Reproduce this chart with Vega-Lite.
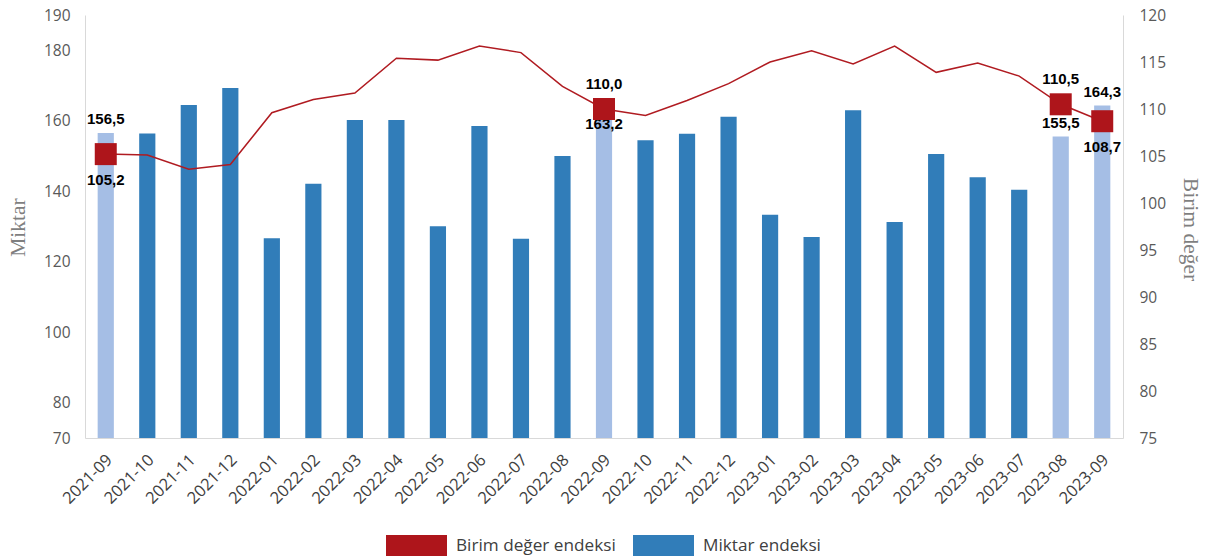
{
  "$schema": "https://vega.github.io/schema/vega-lite/v6.json",
  "width": 1038,
  "height": 423,
  "autosize": {"type": "none"},
  "padding": {"left": 85, "top": 15, "right": 88, "bottom": 120},
  "background": "white",
  "data": {
    "values": [
      {"month": "2021-09", "miktar": 156.5, "birim": 105.2},
      {"month": "2021-10", "miktar": 156.4, "birim": 105.1},
      {"month": "2021-11", "miktar": 164.5, "birim": 103.6},
      {"month": "2021-12", "miktar": 169.3, "birim": 104.1},
      {"month": "2022-01", "miktar": 126.7, "birim": 109.6},
      {"month": "2022-02", "miktar": 142.1, "birim": 111.0},
      {"month": "2022-03", "miktar": 160.2, "birim": 111.7},
      {"month": "2022-04", "miktar": 160.2, "birim": 115.4},
      {"month": "2022-05", "miktar": 130.1, "birim": 115.2},
      {"month": "2022-06", "miktar": 158.5, "birim": 116.7},
      {"month": "2022-07", "miktar": 126.5, "birim": 116.0},
      {"month": "2022-08", "miktar": 150.0, "birim": 112.4},
      {"month": "2022-09", "miktar": 163.2, "birim": 110.0},
      {"month": "2022-10", "miktar": 154.5, "birim": 109.3},
      {"month": "2022-11", "miktar": 156.3, "birim": 110.9},
      {"month": "2022-12", "miktar": 161.1, "birim": 112.7},
      {"month": "2023-01", "miktar": 133.3, "birim": 115.0},
      {"month": "2023-02", "miktar": 127.0, "birim": 116.2},
      {"month": "2023-03", "miktar": 163.0, "birim": 114.8},
      {"month": "2023-04", "miktar": 131.3, "birim": 116.7},
      {"month": "2023-05", "miktar": 150.6, "birim": 113.9},
      {"month": "2023-06", "miktar": 144.0, "birim": 114.9},
      {"month": "2023-07", "miktar": 140.4, "birim": 113.5},
      {"month": "2023-08", "miktar": 155.5, "birim": 110.5},
      {"month": "2023-09", "miktar": 164.3, "birim": 108.7}
    ]
  },
  "config": {
    "locale": {"number": {"decimal": ",", "thousands": ".", "grouping": [3], "currency": ["", " TL"]}},
    "view": {"stroke": null},
    "axis": {
      "grid": false,
      "ticks": false,
      "domainColor": "#D9D9D9",
      "domainWidth": 1,
      "labelFont": "Open Sans",
      "labelFontSize": 15.5,
      "labelColor": "#595959",
      "titleFont": "Liberation Serif",
      "titleFontSize": 21.5,
      "titleFontWeight": "normal",
      "titleColor": "#7F7F7F"
    },
    "legend": {
      "labelFont": "Open Sans",
      "labelFontSize": 17.2,
      "labelColor": "#404040"
    }
  },
  "encoding": {
    "x": {
      "field": "month",
      "type": "ordinal",
      "title": null,
      "scale": {"paddingInner": 0.61, "paddingOuter": 0.305},
      "axis": {"labelAngle": -45, "labelAlign": "right", "labelBaseline": "middle", "labelPadding": 19, "labelOffset": 4, "labelFontSize": 16.5, "labelColor": "#404040"}
    }
  },
  "layer": [
    {
      "encoding": {
        "y": {
          "field": "miktar",
          "type": "quantitative",
          "scale": {"domain": [70, 190], "zero": false, "nice": false},
          "axis": {
            "orient": "left",
            "values": [70, 80, 100, 120, 140, 160, 180, 190],
            "title": "Miktar",
            "labelPadding": 15,
            "titleX": -67,
            "titleY": 212,
            "titleAngle": -90,
            "titleAlign": "center",
            "titleBaseline": "middle"
          }
        }
      },
      "layer": [
        {
          "mark": {"type": "bar"},
          "encoding": {
            "y2": {"datum": 70},
            "color": {
              "condition": {"test": "indexof(['2021-09','2022-09','2023-08','2023-09'], datum.month) >= 0", "value": "#A5BEE5"},
              "datum": "Miktar endeksi",
              "scale": {"domain": ["Birim değer endeksi", "Miktar endeksi"], "range": ["#AE151B", "#317DB9"]},
              "legend": {
                "title": null,
                "orient": "none",
                "direction": "horizontal",
                "legendX": 301,
                "legendY": 500,
                "padding": 0,
                "symbolType": "M-1,-0.344H1V0.344H-1Z",
                "symbolSize": 3721,
                "symbolStrokeWidth": 0,
                "symbolOpacity": 1,
                "labelOffset": 9,
                "columnPadding": 17
              }
            }
          }
        },
        {
          "transform": [{"filter": "indexof(['2021-09','2023-08','2023-09'], datum.month) >= 0"}],
          "mark": {"type": "text", "dy": -14, "font": "Liberation Sans", "fontWeight": "bold", "fontSize": 15, "color": "#000000", "baseline": "middle"},
          "encoding": {"text": {"field": "miktar", "type": "quantitative", "format": ".1f"}}
        },
        {
          "transform": [{"filter": "datum.month == '2022-09'"}],
          "mark": {"type": "text", "dy": 15, "font": "Liberation Sans", "fontWeight": "bold", "fontSize": 15, "color": "#000000", "baseline": "middle"},
          "encoding": {"text": {"field": "miktar", "type": "quantitative", "format": ".1f"}}
        }
      ]
    },
    {
      "encoding": {
        "y": {
          "field": "birim",
          "type": "quantitative",
          "scale": {"domain": [75, 120], "zero": false, "nice": false},
          "axis": {
            "orient": "right",
            "values": [75, 80, 85, 90, 95, 100, 105, 110, 115, 120],
            "title": "Birim değer",
            "labelPadding": 16,
            "titleX": 66,
            "titleY": 214,
            "titleAngle": 90,
            "titleAlign": "center",
            "titleBaseline": "middle"
          }
        }
      },
      "layer": [
        {
          "mark": {"type": "line", "color": "#B01B21", "strokeWidth": 1.5},
          "encoding": {}
        },
        {
          "transform": [{"filter": "indexof(['2021-09','2022-09','2023-08','2023-09'], datum.month) >= 0"}],
          "mark": {"type": "point", "shape": "square", "filled": true, "size": 484, "opacity": 1},
          "encoding": {"color": {"datum": "Birim değer endeksi"}}
        },
        {
          "transform": [{"filter": "indexof(['2022-09','2023-08'], datum.month) >= 0"}],
          "mark": {"type": "text", "dy": -25, "font": "Liberation Sans", "fontWeight": "bold", "fontSize": 15, "color": "#000000", "baseline": "middle"},
          "encoding": {"text": {"field": "birim", "type": "quantitative", "format": ".1f"}}
        },
        {
          "transform": [{"filter": "indexof(['2021-09','2023-09'], datum.month) >= 0"}],
          "mark": {"type": "text", "dy": 26, "font": "Liberation Sans", "fontWeight": "bold", "fontSize": 15, "color": "#000000", "baseline": "middle"},
          "encoding": {"text": {"field": "birim", "type": "quantitative", "format": ".1f"}}
        }
      ]
    }
  ],
  "resolve": {"scale": {"y": "independent"}}
}
